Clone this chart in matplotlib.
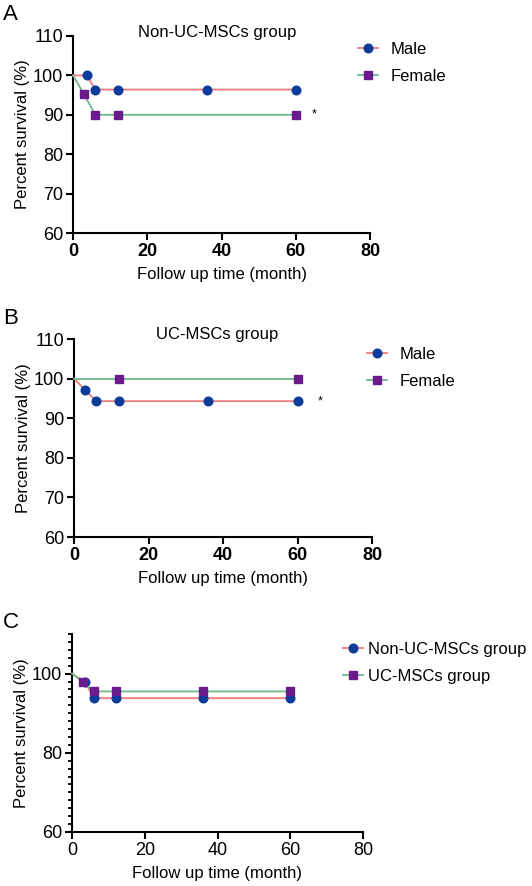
import numpy as np
import matplotlib.pyplot as plt
from matplotlib.ticker import MultipleLocator

plt.rcParams['font.family'] = ['Liberation Sans', 'DejaVu Sans']

RED = '#f07c7c'
GREEN = '#6fb98a'
BLUE = '#0b3c9c'
PURPLE = '#6b1a8c'

# Panel A: Non-UC-MSCs group
a_male_x = [0, 3.7, 6, 12, 36, 60]
a_male_y = [100, 100, 96.4, 96.4, 96.4, 96.4]
a_female_x = [0, 3, 6, 12, 60]
a_female_y = [100, 95.2, 90, 90, 90]

# Panel B: UC-MSCs group
b_male_x = [0, 3, 6, 12, 36, 60]
b_male_y = [100, 97.1, 94.3, 94.3, 94.3, 94.3]
b_female_x = [0, 12, 60]
b_female_y = [100, 100, 100]

# Panel C: groups compared
c_non_x = [0, 3.6, 6, 12, 36, 60]
c_non_y = [100, 97.9, 93.8, 93.8, 93.8, 93.8]
c_uc_x = [0, 3, 6, 12, 36, 60]
c_uc_y = [100, 97.9, 95.5, 95.5, 95.5, 95.5]

xticks = [0, 20, 40, 60, 80]

W, H = 532, 886
fig = plt.figure(figsize=(W / 100, H / 100), dpi=100)


def px_axes(l, t, r, b):
    return fig.add_axes([l / W, 1 - b / H, (r - l) / W, (b - t) / H])


def style(ax, bold_x):
    for s in ['top', 'right']:
        ax.spines[s].set_visible(False)
    for s in ['left', 'bottom']:
        ax.spines[s].set_linewidth(1.5)
    ax.tick_params(direction='out', length=5, width=1.5, labelsize=13, pad=2)
    ax.set_xlim(0, 80)
    ax.set_xticks(xticks)
    if bold_x:
        for lab in ax.get_xticklabels():
            lab.set_fontweight('bold')
    ax.set_xlabel('Follow up time (month)', fontsize=12, labelpad=5)
    ax.set_ylabel('Percent survival (%)', fontsize=12, labelpad=2)


def draw(ax, x1, y1, l1, x2, y2, l2):
    ax.plot(x1, y1, color=RED, lw=1.3, marker='o', ms=6.2,
            mfc=BLUE, mec=BLUE, label=l1, clip_on=False, zorder=3)
    ax.plot(x2, y2, color=GREEN, lw=1.3, marker='s', ms=6.2,
            mfc=PURPLE, mec=PURPLE, label=l2, clip_on=False, zorder=3)
    # no marker at time 0
    for ln in ax.get_lines():
        ln.set_markevery(list(range(1, len(ln.get_xdata()))))


def legend(ax, x, y, pad):
    ax.legend(loc='upper left', bbox_to_anchor=(x, y), frameon=False,
              fontsize=12, handlelength=1.2, handletextpad=pad,
              labelspacing=0.72, borderpad=0, borderaxespad=0)


# A
axA = px_axes(73, 36, 370, 233)
draw(axA, a_male_x, a_male_y, 'Male', a_female_x, a_female_y, 'Female')
axA.set_ylim(60, 110)
axA.set_yticks([60, 70, 80, 90, 100, 110])
style(axA, True)
legend(axA, 0.96, 0.968, 0.75)
axA.text(65, 90, '*', fontsize=9, ha='center', va='center')
fig.text(217 / W, 1 - 32 / H, 'Non-UC-MSCs group', ha='center', va='center', fontsize=12)
fig.text(3 / W, 1 - 15 / H, 'A', ha='left', va='center', fontsize=16)

# B
axB = px_axes(74, 339, 372, 537)
draw(axB, b_male_x, b_male_y, 'Male', b_female_x, b_female_y, 'Female')
axB.set_ylim(60, 110)
axB.set_yticks([60, 70, 80, 90, 100, 110])
style(axB, True)
legend(axB, 0.983, 0.96, 0.75)
axB.text(66, 94.3, '*', fontsize=9, ha='center', va='center')
fig.text(217 / W, 1 - 334 / H, 'UC-MSCs group', ha='center', va='center', fontsize=12)
fig.text(3 / W, 1 - 318 / H, 'B', ha='left', va='center', fontsize=16)

# C
axC = px_axes(72, 634, 363, 832)
draw(axC, c_non_x, c_non_y, 'Non-UC-MSCs group', c_uc_x, c_uc_y, 'UC-MSCs group')
axC.set_ylim(60, 110)
axC.set_yticks([60, 80, 100])
axC.yaxis.set_minor_locator(MultipleLocator(2))
axC.tick_params(which='minor', length=3, width=1.3)
style(axC, False)
legend(axC, 0.93, 0.96, 0.3)
fig.text(3 / W, 1 - 622 / H, 'C', ha='left', va='center', fontsize=16)

fig.savefig('out.png', dpi=100)
